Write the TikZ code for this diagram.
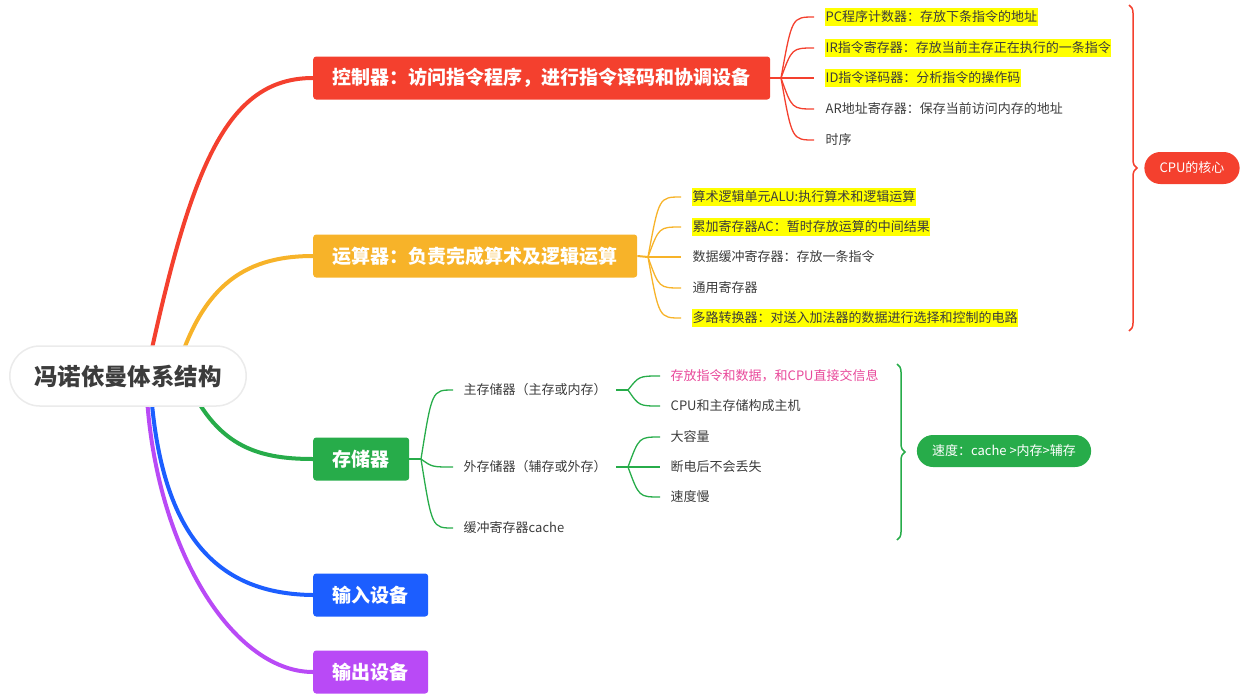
\documentclass[tikz,border=0pt]{standalone}
\usepackage{fontspec}
\setmainfont{Noto Sans CJK SC}
\usetikzlibrary{decorations.pathreplacing,backgrounds,shapes.misc}
\definecolor{ctlred}{HTML}{F4402E}
\definecolor{aluorange}{HTML}{F7B329}
\definecolor{memgreen}{HTML}{27AC4A}
\definecolor{inblue}{HTML}{1C5EFF}
\definecolor{outpurple}{HTML}{B94AF6}
\definecolor{txtgray}{HTML}{3C3C3C}
\definecolor{hipink}{HTML}{E8489A}
\definecolor{hiyellow}{HTML}{FFFF00}
\tikzset{
  topic/.style={rounded corners=3pt, anchor=west, text=white, minimum height=43pt,
    inner xsep=19.5pt, font=\fontsize{19}{22}\selectfont\bfseries},
  leaf/.style={anchor=west, text=txtgray, inner xsep=0.5pt, inner ysep=2.5pt,
    font=\fontsize{13}{15}\selectfont},
  hilite/.style={fill=hiyellow},
  pill/.style={rounded rectangle, text=white, minimum height=32pt, inner xsep=14pt,
    font=\fontsize{13}{15}\selectfont},
  rootbox/.style={rounded rectangle, fill=white, draw=black!8, line width=1.5pt,
    minimum height=60pt, inner xsep=22pt, text=txtgray, font=\fontsize{23.5}{26}\selectfont\bfseries},
  branch/.style={line width=4pt, line cap=round},
  twig/.style={line width=1.3pt},
  stem/.style={line width=2pt},
  curly/.style={decorate, decoration={brace, amplitude=8pt}, line width=1.5pt}
}
\begin{document}
\begin{tikzpicture}[x=1pt, y=-1pt]
\useasboundingbox (0,0) rectangle (1242,697);

% 中心主题
\node[rootbox] (root) at (128,376) {冯诺依曼体系结构};

% 五个分支
\node[topic, fill=ctlred] (ctl) at (313,78) {控制器：访问指令程序，进行指令译码和协调设备};
\node[topic, fill=aluorange] (alu) at (313,256) {运算器：负责完成算术及逻辑运算};
\node[topic, fill=memgreen] (mem) at (313,459) {存储器};
\node[topic, fill=inblue] (inp) at (313,595) {输入设备};
\node[topic, fill=outpurple] (outp) at (313,672) {输出设备};

\begin{scope}[on background layer]
  \draw[branch, ctlred] ([xshift=18pt]root.center) .. controls (190,170) and (225,78) .. (ctl.west);
  \draw[branch, aluorange] ([xshift=47pt]root.center) .. controls (200,290) and (240,256) .. (alu.west);
  \draw[branch, memgreen] ([xshift=57pt]root.center) .. controls (215,445) and (255,459) .. (mem.west);
  \draw[branch, inblue] ([xshift=22pt]root.center) .. controls (158,540) and (220,594) .. (inp.west);
  \draw[branch, outpurple] ([xshift=18pt]root.center) .. controls (150,540) and (230,672) .. (outp.west);
\end{scope}

% 控制器
\node[leaf, hilite] (pc) at (825,17) {PC程序计数器：存放下条指令的地址};
\node[leaf, hilite] (ir) at (825,48) {IR指令寄存器：存放当前主存正在执行的一条指令};
\node[leaf, hilite] (id) at (825,78) {ID指令译码器：分析指令的操作码};
\node[leaf] (ar) at (825,109) {AR地址寄存器：保存当前访问内存的地址};
\node[leaf] (tick) at (825,140) {时序};
\coordinate (ctlfork) at (781,78);
\draw[stem, ctlred] (ctl.east) -- (ctlfork);
\foreach \k in {pc,ir,id,ar,tick}
  \draw[twig, ctlred] (ctlfork) .. controls ([xshift=11pt]ctlfork |- \k.west) .. ([xshift=-11pt]\k.west);

% 运算器
\node[leaf, hilite] (arith) at (692,197) {算术逻辑单元ALU:执行算术和逻辑运算};
\node[leaf, hilite] (acc) at (692,227) {累加寄存器AC：暂时存放运算的中间结果};
\node[leaf] (dbr) at (692,257) {数据缓冲寄存器：存放一条指令};
\node[leaf] (gpr) at (692,288) {通用寄存器};
\node[leaf, hilite] (mux) at (692,318) {多路转换器：对送入加法器的数据进行选择和控制的电路};
\coordinate (alufork) at (648,257);
\draw[stem, aluorange] (alu.east) -- (alufork);
\foreach \k in {arith,acc,dbr,gpr,mux}
  \draw[twig, aluorange] (alufork) .. controls ([xshift=11pt]alufork |- \k.west) .. ([xshift=-11pt]\k.west);

% 存储器
\node[leaf] (mainmem) at (463,390) {主存储器（主存或内存）};
\node[leaf] (extmem) at (463,467) {外存储器（辅存或外存）};
\node[leaf] (cache) at (463,528) {缓冲寄存器cache};
\coordinate (memfork) at (421,459);
\draw[stem, memgreen] (mem.east) -- (memfork);
\foreach \k in {mainmem,extmem,cache}
  \draw[twig, memgreen] (memfork) .. controls ([xshift=11pt]memfork |- \k.west) .. ([xshift=-10pt]\k.west);

\node[leaf, text=hipink] (swap) at (670,376) {存放指令和数据，和CPU直接交信息};
\node[leaf] (host) at (670,406) {CPU和主存储构成主机};
\coordinate (mainfork) at (628,390);
\draw[stem, memgreen] ([xshift=9pt]mainmem.east) -- (mainfork);
\foreach \k in {swap,host}
  \draw[twig, memgreen] (mainfork) .. controls ([xshift=11pt]mainfork |- \k.west) .. ([xshift=-10pt]\k.west);

\node[leaf] (big) at (670,437) {大容量};
\node[leaf] (keep) at (670,467) {断电后不会丢失};
\node[leaf] (slow) at (670,497) {速度慢};
\coordinate (extfork) at (628,467);
\draw[stem, memgreen] ([xshift=9pt]extmem.east) -- (extfork);
\foreach \k in {big,keep,slow}
  \draw[twig, memgreen] (extfork) .. controls ([xshift=11pt]extfork |- \k.west) .. ([xshift=-10pt]\k.west);

% 外框括号
\coordinate (cputop) at (1129,5);
\coordinate (cpubot) at (1129,331);
\draw[curly, ctlred] (cputop) -- (cpubot);
\node[pill, fill=ctlred] (core) at (1192,168) {CPU的核心};

\coordinate (spdtop) at (897,364);
\coordinate (spdbot) at (897,540);
\draw[curly, memgreen] (spdtop) -- (spdbot);
\node[pill, fill=memgreen] (speed) at (1004,451) {速度：cache >内存>辅存};
\end{tikzpicture}
\end{document}
